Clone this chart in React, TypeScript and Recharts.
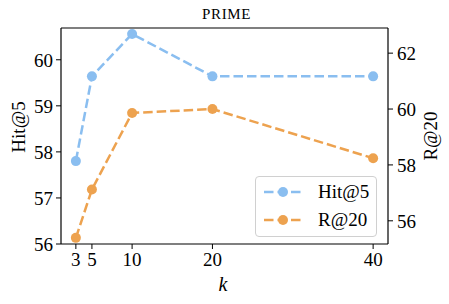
import { LineChart, Line, XAxis, YAxis } from 'recharts'

const kValues = [3, 5, 10, 20, 40]
const hit5 = [57.8, 59.64, 60.56, 59.64, 59.64]
const r20 = [55.39, 57.12, 59.86, 60.0, 58.24]
const xTicks = [3, 5, 10, 20, 40]
const leftTicks = [56, 57, 58, 59, 60]
const rightTicks = [56, 58, 60, 62]

const BLUE = '#8abef0'
const ORANGE = '#eda24f'
const FONT = 'Liberation Serif'
const DASH = '9.5 4'

const data = kValues.map((k, i) => ({ k, hit5: hit5[i], r20: r20[i] }))

const tickStyle = { fill: '#000', fontSize: 19, fontFamily: FONT }

function LegendBox() {
  const rows = [
    { name: 'Hit@5', color: BLUE },
    { name: 'R@20', color: ORANGE },
  ]
  return (
    <div
      style={{
        position: 'absolute',
        left: 255,
        top: 176,
        width: 120,
        height: 59,
        border: '1px solid #d0d0d0',
        borderRadius: 4,
        background: 'rgba(255,255,255,0.85)',
        fontSize: 19,
      }}
    >
      {rows.map((r, i) => (
        <div
          key={r.name}
          style={{ position: 'absolute', left: 0, top: 2 + i * 28, height: 26, display: 'flex', alignItems: 'center' }}
        >
          <svg width={52} height={26} style={{ display: 'block' }}>
            <line x1={8} x2={46} y1={13} y2={13} stroke={r.color} strokeWidth={2.5} strokeDasharray={DASH} />
            <circle cx={27} cy={13} r={5} fill={r.color} />
          </svg>
          <span style={{ marginLeft: 10, lineHeight: '26px' }}>{r.name}</span>
        </div>
      ))}
    </div>
  )
}

export default function App() {
  return (
    <div
      style={{
        position: 'absolute',
        left: 0,
        top: 0,
        width: 449,
        height: 304,
        background: '#fff',
        fontFamily: FONT,
      }}
    >
      <div
        style={{
          position: 'absolute',
          left: 0,
          width: 449,
          top: 4,
          textAlign: 'center',
          fontSize: 15,
          letterSpacing: 0.6,
          lineHeight: '20px',
          paddingLeft: 2,
        }}
      >
        PRIME
      </div>
      <LineChart width={449} height={304} data={data} margin={{ top: 27, right: 0, bottom: 0, left: 0 }}>
        <XAxis
          xAxisId="top"
          orientation="top"
          dataKey="k"
          type="number"
          domain={[1.15, 41.85]}
          height={1}
          tick={false}
          tickLine={false}
          axisLine={{ stroke: '#000', strokeWidth: 1.2 }}
          allowDataOverflow
        />
        <XAxis
          dataKey="k"
          type="number"
          domain={[1.15, 41.85]}
          ticks={xTicks}
          height={60}
          tickSize={5}
          tickMargin={4}
          tick={tickStyle}
          tickLine={{ stroke: '#000' }}
          axisLine={{ stroke: '#000', strokeWidth: 1.2 }}
          allowDataOverflow
          label={{
            content: () => (
              <text x={223} y={291} textAnchor="middle" fontFamily={FONT} fontStyle="italic" fontSize={20} fill="#000">
                k
              </text>
            ),
          }}
        />
        <YAxis
          yAxisId="left"
          domain={[56, 60.69]}
          ticks={leftTicks}
          width={61}
          tickSize={5}
          tickMargin={3}
          tick={tickStyle}
          tickLine={{ stroke: '#000' }}
          axisLine={{ stroke: '#000', strokeWidth: 1.2 }}
          allowDataOverflow
          label={{
            content: () => (
              <text
                x={18}
                y={127}
                transform="rotate(-90 18 127)"
                textAnchor="middle"
                dominantBaseline="central"
                fontFamily={FONT}
                fontSize={19}
                fill="#000"
              >
                Hit@5
              </text>
            ),
          }}
        />
        <YAxis
          yAxisId="right"
          orientation="right"
          domain={[55.17, 62.9]}
          ticks={rightTicks}
          width={61}
          tickSize={5}
          tickMargin={4}
          tick={tickStyle}
          tickLine={{ stroke: '#000' }}
          axisLine={{ stroke: '#000', strokeWidth: 1.2 }}
          allowDataOverflow
          label={{
            content: () => (
              <text
                x={430}
                y={136}
                transform="rotate(-90 430 136)"
                textAnchor="middle"
                dominantBaseline="central"
                fontFamily={FONT}
                fontSize={19}
                fill="#000"
              >
                R@20
              </text>
            ),
          }}
        />
        <Line
          yAxisId="left"
          dataKey="hit5"
          type="linear"
          stroke={BLUE}
          strokeWidth={2.5}
          strokeDasharray={DASH}
          dot={{ r: 5, fill: BLUE, stroke: 'none' }}
          activeDot={false}
          isAnimationActive={false}
        />
        <Line
          yAxisId="right"
          dataKey="r20"
          type="linear"
          stroke={ORANGE}
          strokeWidth={2.5}
          strokeDasharray={DASH}
          dot={{ r: 5, fill: ORANGE, stroke: 'none' }}
          activeDot={false}
          isAnimationActive={false}
        />
      </LineChart>
      <LegendBox />
    </div>
  )
}
